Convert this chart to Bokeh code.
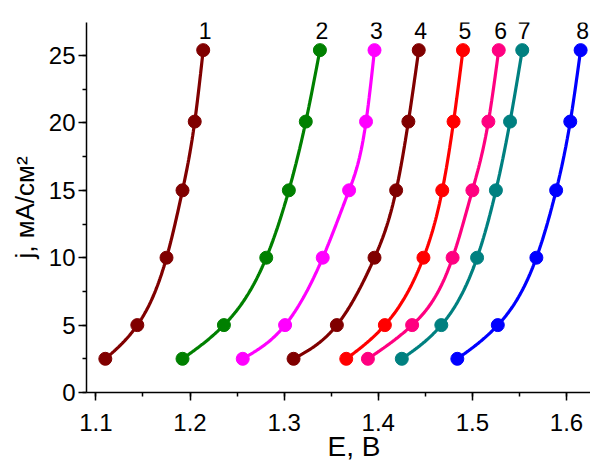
import numpy as np
from bokeh.plotting import figure
from bokeh.models import Range1d, SingleIntervalTicker, ColumnDataSource, Title
from bokeh.core.properties import value
from bokeh.embed import file_html
from bokeh.resources import INLINE

# Current density values (same for every curve), mA/cm2
j_vals = [2.5, 5.0, 10.0, 15.0, 20.1, 25.4]

# Potential E, V for curves 1..8
E1 = [1.110, 1.144, 1.175, 1.192, 1.205, 1.214]
E2 = [1.192, 1.236, 1.281, 1.305, 1.323, 1.338]
E3 = [1.256, 1.301, 1.341, 1.369, 1.387, 1.396]
E4 = [1.310, 1.356, 1.396, 1.419, 1.432, 1.443]
E5 = [1.366, 1.407, 1.448, 1.468, 1.480, 1.490]
E6 = [1.389, 1.436, 1.479, 1.500, 1.517, 1.528]
E7 = [1.425, 1.467, 1.505, 1.525, 1.540, 1.553]
E8 = [1.484, 1.527, 1.568, 1.589, 1.604, 1.615]

curve_labels = ["1", "2", "3", "4", "5", "6", "7", "8"]
curve_E = [E1, E2, E3, E4, E5, E6, E7, E8]
colors = ["#800000", "#008000", "#FF00FF", "#800000",
          "#FF0000", "#FF0080", "#008080", "#0000FF"]

x_ticks_interval = 0.1
y_ticks_interval = 5

FONT = "Liberation Sans"


def natural_spline(xk, yk, n=150):
    """Smooth drawing path through the measured points (natural cubic)."""
    xk = np.asarray(xk, float)
    yk = np.asarray(yk, float)
    m = len(xk)
    h = np.diff(xk)
    A = np.zeros((m, m))
    b = np.zeros(m)
    A[0, 0] = 1.0
    A[-1, -1] = 1.0
    for i in range(1, m - 1):
        A[i, i - 1] = h[i - 1]
        A[i, i] = 2 * (h[i - 1] + h[i])
        A[i, i + 1] = h[i]
        b[i] = 3 * ((yk[i + 1] - yk[i]) / h[i] - (yk[i] - yk[i - 1]) / h[i - 1])
    c = np.linalg.solve(A, b)
    t = np.linspace(xk[0], xk[-1], n)
    out = np.empty_like(t)
    for k, tv in enumerate(t):
        i = min(np.searchsorted(xk, tv, side="right") - 1, m - 2)
        i = max(i, 0)
        dx = tv - xk[i]
        bi = (yk[i + 1] - yk[i]) / h[i] - h[i] * (2 * c[i] + c[i + 1]) / 3
        di = (c[i + 1] - c[i]) / (3 * h[i])
        out[k] = yk[i] + bi * dx + c[i] * dx ** 2 + di * dx ** 3
    return t, out


p = figure(width=590, height=461,
           x_range=Range1d(1.09, 1.6255), y_range=Range1d(0, 27.45),
           output_backend="svg", toolbar_location=None,
           min_border_left=86, min_border_right=0,
           min_border_top=22, min_border_bottom=69)

p.outline_line_color = None
p.grid.visible = False
p.background_fill_color = "white"
p.border_fill_color = "white"

for lab, E, col in zip(curve_labels, curve_E, colors):
    ee, jj = natural_spline(E, j_vals)
    p.line(ee, jj, line_color=col, line_width=3.2)
    p.scatter(E, j_vals, size=13, fill_color=col, line_color=col)

lab_src = ColumnDataSource(dict(x=[E[-1] for E in curve_E],
                                y=[j_vals[-1]] * len(curve_E),
                                t=curve_labels))
p.text(x="x", y="y", text="t", source=lab_src, text_align="center",
       text_baseline="alphabetic", x_offset=2, y_offset=-20,
       text_font=value(FONT), text_font_size="23px", text_color="black")

p.xaxis.ticker = SingleIntervalTicker(interval=x_ticks_interval, num_minor_ticks=2)
p.yaxis.ticker = SingleIntervalTicker(interval=y_ticks_interval, num_minor_ticks=2)

for ax in (p.xaxis[0], p.yaxis[0]):
    ax.axis_line_width = 1.5
    ax.axis_line_color = "black"
    ax.major_tick_line_width = 1.5
    ax.minor_tick_line_width = 1.5
    ax.major_tick_line_color = "black"
    ax.minor_tick_line_color = "black"
    ax.major_tick_in = 0
    ax.major_tick_out = 8
    ax.minor_tick_in = 0
    ax.minor_tick_out = 4
    ax.major_label_text_font = FONT
    ax.major_label_text_font_size = "24px"
    ax.major_label_text_color = "black"
    ax.axis_label_text_font = FONT
    ax.axis_label_text_font_style = "normal"
    ax.axis_label_text_color = "black"

p.xaxis.major_label_standoff = 13

# x-axis title, shifted right as in the original figure
p.add_layout(Title(text="E, В", align="left", offset=241, standoff=-9,
                   text_font=FONT, text_font_size="28px",
                   text_font_style="normal", text_color="black"), "below")

p.yaxis.major_label_standoff = 3
p.yaxis.axis_label = "j, мА/см²"
p.yaxis.axis_label_text_font_size = "26px"
p.yaxis.axis_label_standoff = 6

open("out.html", "w").write(file_html(p, INLINE))
